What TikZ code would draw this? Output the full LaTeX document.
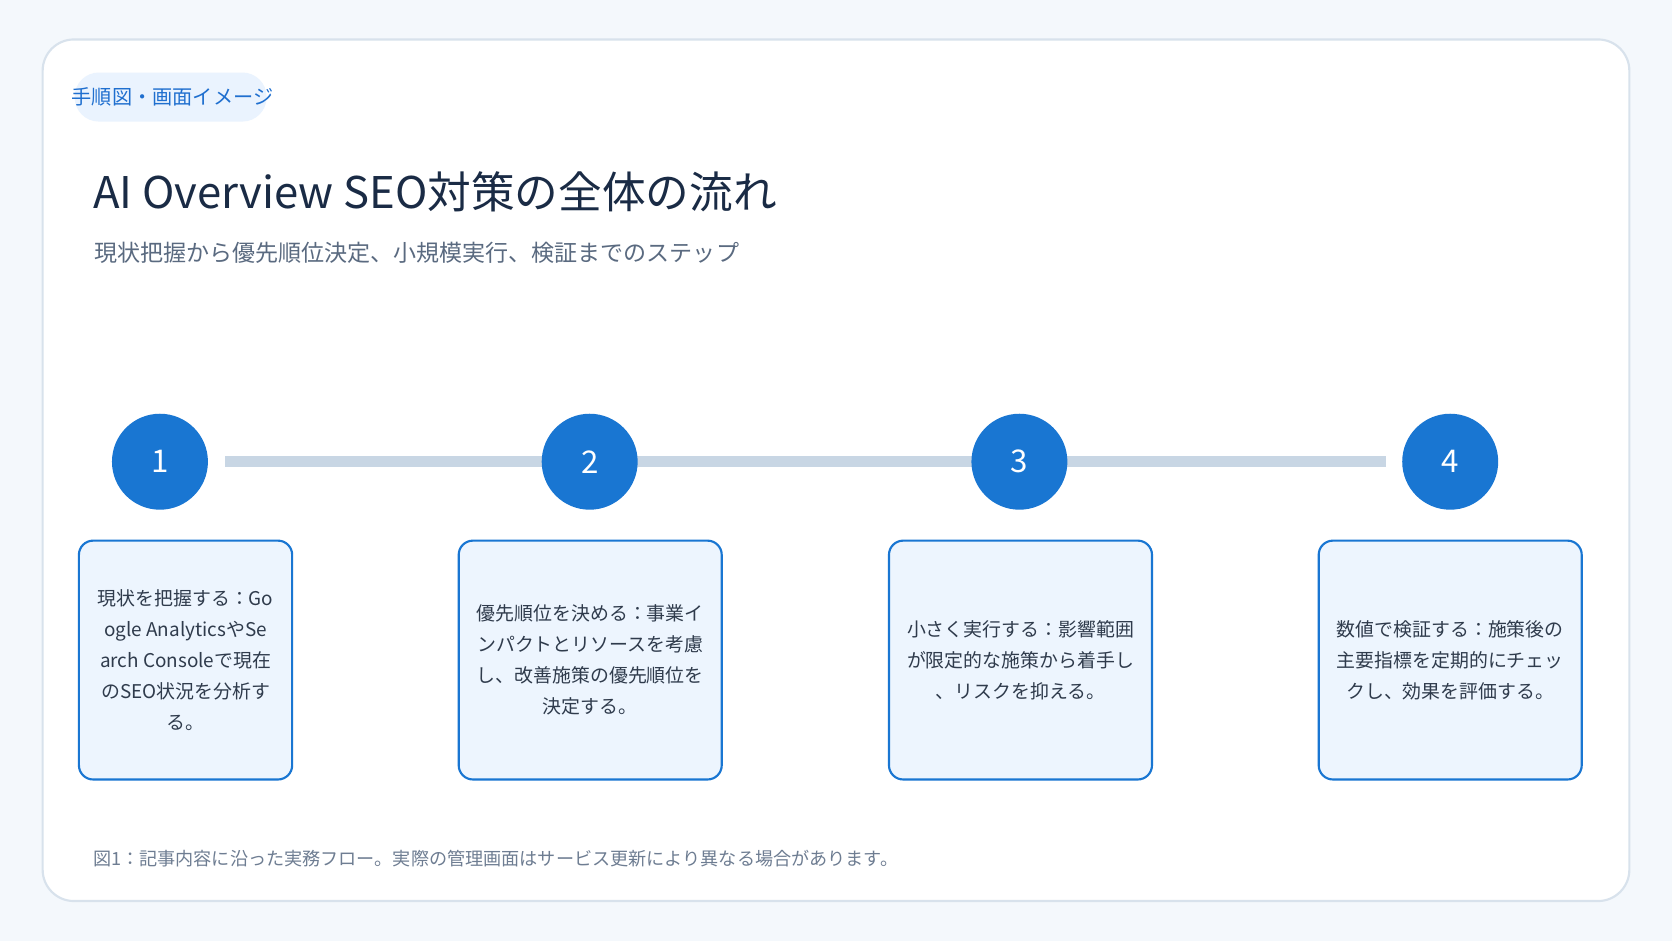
\documentclass[tikz,border=0pt]{standalone}
\usepackage{fontspec}
\setmainfont{Noto Sans CJK JP}
\usetikzlibrary{backgrounds}

\definecolor{pagebg}{HTML}{F4F8FC}
\definecolor{panelline}{HTML}{D8E2EC}
\definecolor{tagbg}{HTML}{EAF3FE}
\definecolor{tagblue}{HTML}{1F6FCF}
\definecolor{titlenavy}{HTML}{1A2B45}
\definecolor{subgrey}{HTML}{5A6A80}
\definecolor{capgrey}{HTML}{6E7D92}
\definecolor{stepblue}{HTML}{1976D2}
\definecolor{trackgrey}{HTML}{C8D6E4}
\definecolor{cardfill}{HTML}{EDF5FE}
\definecolor{cardtext}{HTML}{2F3B4C}

\begin{document}
\begin{tikzpicture}[x=0.75pt, y=-0.75pt,
    stepdot/.style={circle, fill=stepblue, text=white, minimum size=67.5pt, inner sep=0pt,
        font=\fontsize{22}{26}\selectfont},
    card/.style={draw=stepblue, line width=1.5pt, fill=cardfill, rounded corners=10pt,
        minimum width=185pt, minimum height=168pt, inner sep=0pt, align=center,
        text=cardtext, font=\fontsize{13.3}{21.75}\selectfont},
    track/.style={draw=trackgrey, line width=7.5pt, shorten <=12pt, shorten >=11.25pt}]
    \useasboundingbox (0,0) rectangle (1568,882.5);

    % heading
    \fill[tagbg, rounded corners=17pt] (70,68) rectangle (250,114);
    \node[anchor=west, text=tagblue, font=\fontsize{14.2}{17}\selectfont, inner sep=0pt] (tag) at (67,91) {手順図・画面イメージ};
    \node[anchor=west, text=titlenavy, font=\fontsize{30.7}{36}\selectfont, inner sep=0pt] (title) at (87,180) {AI Overview SEO対策の全体の流れ};
    \node[anchor=west, text=subgrey, font=\fontsize{16.2}{20}\selectfont, inner sep=0pt] (sub) at (88,237) {現状把握から優先順位決定、小規模実行、検証までのステップ};

    % steps
    \node[stepdot] (s1) at (150,433) {1};
    \node[stepdot] (s2) at (553,433) {2};
    \node[stepdot] (s3) at (956,433) {3};
    \node[stepdot] (s4) at (1360,433) {4};

    \node[card, minimum width=150pt] (c1) at (174,619) {現状を把握する：Go\\ogle AnalyticsやSe\\arch Consoleで現在\\のSEO状況を分析す\\る。};
    \node[card] (c2) at (553.5,619) {優先順位を決める：事業イ\\ンパクトとリソースを考慮\\し、改善施策の優先順位を\\決定する。};
    \node[card] (c3) at (957,619) {小さく実行する：影響範囲\\が限定的な施策から着手し\\、リスクを抑える。};
    \node[card] (c4) at (1360,619) {数値で検証する：施策後の\\主要指標を定期的にチェッ\\クし、効果を評価する。};

    \node[anchor=west, text=capgrey, font=\fontsize{12.75}{15}\selectfont, inner sep=0pt] (cap) at (87,805) {図1：記事内容に沿った実務フロー。実際の管理画面はサービス更新により異なる場合があります。};

    \begin{pgfonlayer}{background}
        \fill[pagebg] (0,0) rectangle (1568,882.5);
        \draw[panelline, fill=white, line width=1.5pt, rounded corners=22pt] (40,37) rectangle (1528,845);
        \draw[track] (s1) -- (s4);
    \end{pgfonlayer}
\end{tikzpicture}
\end{document}
